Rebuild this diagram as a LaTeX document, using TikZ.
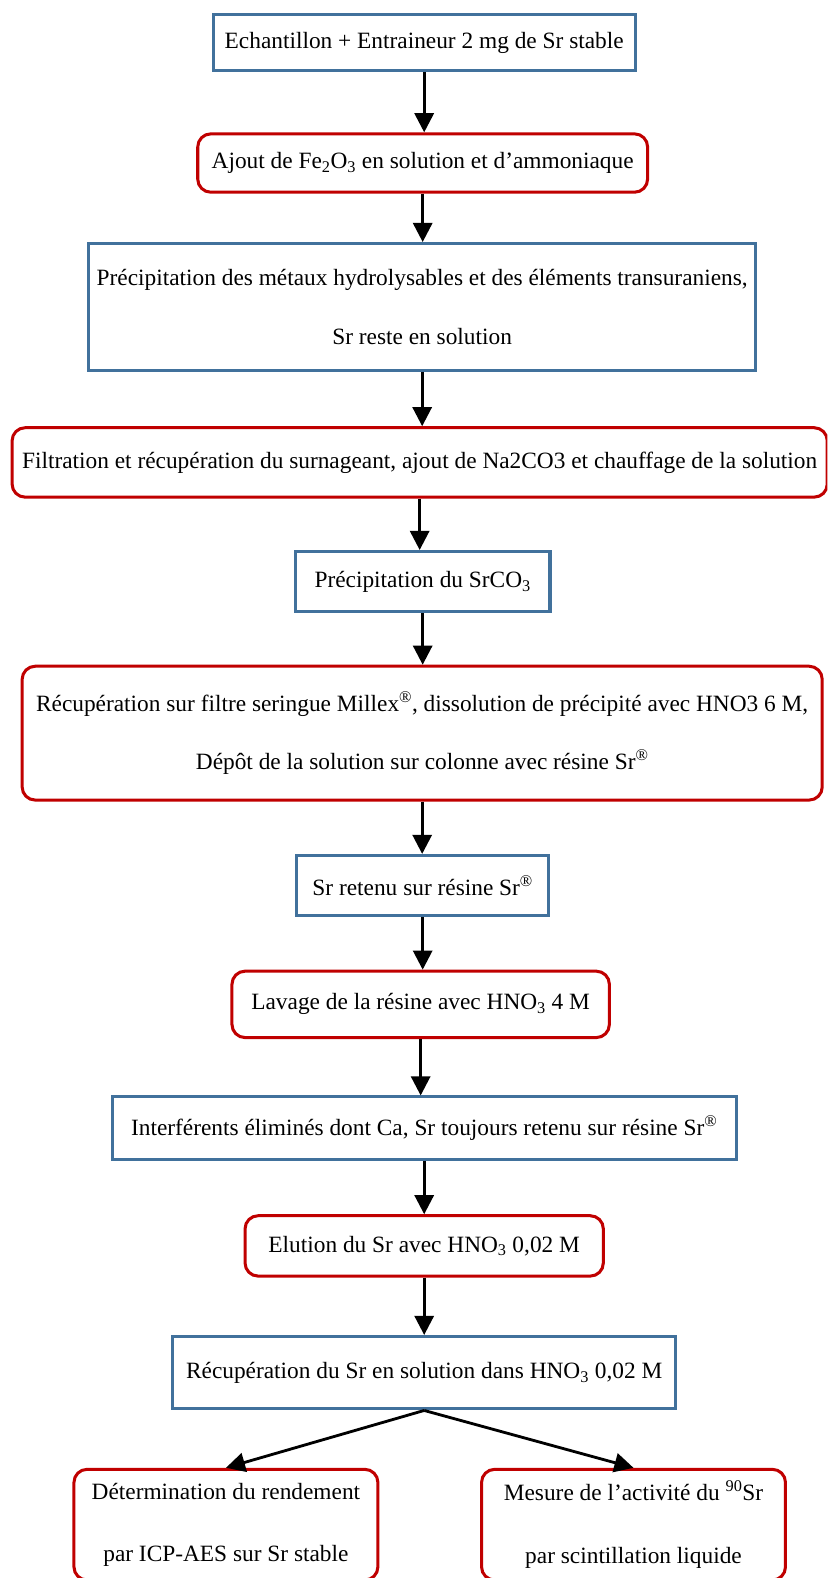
\documentclass[tikz,border=0pt]{standalone}
\usepackage{fontspec}
\setmainfont{Liberation Serif}
\usetikzlibrary{arrows.meta}
\definecolor{bblue}{RGB}{65,113,156}
\definecolor{rred}{RGB}{192,0,0}
\begin{document}
\begin{tikzpicture}[x=1pt,y=-1pt,
  bluebox/.style={draw=bblue,line width=3pt,rectangle,inner sep=0pt,align=center,font=\fontsize{23.2}{58}\selectfont},
  redbox/.style={draw=rred,line width=3pt,rectangle,rounded corners=13pt,inner sep=0pt,align=center,font=\fontsize{23.2}{58}\selectfont},
  flow/.style={draw=black,line width=2.8pt,-{Triangle[length=19pt,width=19pt]}}]
\useasboundingbox[fill=white] (0,0) rectangle (822,1568);
\clip (0,0) rectangle (822,1568);
\node[bluebox,minimum width=419pt,minimum height=56pt] (b1) at (421.5,42.5) {Echantillon + Entraineur 2 mg de Sr stable};
\node[redbox,minimum width=447pt,minimum height=58pt] (b2) at (420,162) {Ajout de Fe\textsubscript{2}O\textsubscript{3} en solution et d’ammoniaque};
\node[bluebox,minimum width=663pt,minimum height=126pt] (b3) at (419.5,305) {Précipitation des métaux hydrolysables et des éléments transuraniens,\\Sr reste en solution};
\node[redbox,minimum width=810pt,minimum height=69pt] (b4) at (417,459.5) {Filtration et récupération du surnageant, ajout de Na2CO3 et chauffage de la solution};
\node[bluebox,minimum width=253pt,minimum height=60pt] (b5) at (420,578) {Précipitation du SrCO\textsubscript{3}};
\node[redbox,minimum width=795pt,minimum height=133pt] (b6) at (419.5,728.5) {Récupération sur filtre seringue Millex\textsuperscript{®}, dissolution de précipité avec HNO3 6 M,\\Dépôt de la solution sur colonne avec résine Sr\textsuperscript{®}};
\node[bluebox,minimum width=251pt,minimum height=60pt] (b7) at (420,880) {Sr retenu sur résine Sr\textsuperscript{®}};
\node[redbox,minimum width=375pt,minimum height=66pt] (b8) at (418,998) {Lavage de la résine avec HNO\textsubscript{3} 4 M};
\node[bluebox,minimum width=620pt,minimum height=62pt] (b9) at (421.5,1121) {Interférents éliminés dont Ca, Sr toujours retenu sur résine Sr\textsuperscript{®}};
\node[redbox,minimum width=356pt,minimum height=60pt] (b10) at (421.5,1238) {Elution du Sr avec HNO\textsubscript{3} 0,02 M};
\node[bluebox,minimum width=500pt,minimum height=72pt] (b11) at (421.5,1364) {Récupération du Sr en solution dans HNO\textsubscript{3} 0,02 M};
\node[redbox,minimum width=302pt,minimum height=110pt,font=\fontsize{23.2}{62}\selectfont] (b12) at (224.5,1515) {Détermination du rendement\\par ICP-AES sur Sr stable};
\node[redbox,minimum width=302pt,minimum height=110pt,font=\fontsize{23.2}{62}\selectfont] (b13) at (629.5,1515) {Mesure de l’activité du \textsuperscript{90}Sr\\par scintillation liquide};
\foreach \a/\b in {b1/b2,b2/b3,b3/b4,b4/b5,b5/b6,b6/b7,b7/b8,b8/b9,b9/b10,b10/b11}
  \draw[flow] (\a.south) -- (\a.south |- \b.north);
\draw[flow] (b11.south) -- (b12.north);
\draw[flow] (b11.south) -- (b13.north);
\end{tikzpicture}
\end{document}
